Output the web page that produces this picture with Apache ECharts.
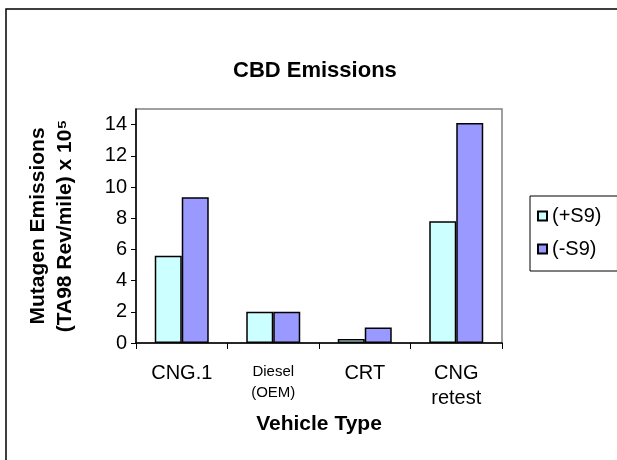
<!DOCTYPE html>
<html>
<head>
<meta charset="utf-8">
<script src="https://cdn.jsdelivr.net/npm/echarts@6/dist/echarts.min.js"></script>
<style>
  html, body { margin: 0; padding: 0; background: #fff; }
  #main { width: 617px; height: 460px; }
</style>
</head>
<body>
<div id="main"></div>
<script>
// data
const categories = ['CNG.1', 'Diesel\n(OEM)', 'CRT', 'CNG\nretest'];
const plusS9 = [5.6, 2.0, 0.25, 7.8];
const minusS9 = [9.35, 2.0, 1.0, 14.1];
const yTicks = [0, 2, 4, 6, 8, 10, 12, 14];
const seriesNames = ['(+S9)', '(-S9)'];

const font = 'Liberation Sans, Arial, sans-serif';

const myChart = echarts.init(document.getElementById('main'));

function catLabel(v) {
    // the Diesel label is printed smaller in the original
    const style = v.indexOf('Diesel') === 0 ? 's' : 'b';
    return v.split('\n').map(function (l) { return '{' + style + '|' + l + '}'; }).join('\n');
}

const option = {
    backgroundColor: '#fff',
    animation: false,
    title: {
        text: 'CBD Emissions',
        left: 228,
        top: 55,
        textStyle: { fontFamily: font, fontSize: 22, fontWeight: 'bold', color: '#000' }
    },
    legend: {
        orient: 'vertical',
        left: 530,
        top: 196,
        padding: [10, 16, 12, 7],
        itemGap: 13,
        itemWidth: 9,
        itemHeight: 9,
        itemTextGap: 7,
        icon: 'rect',
        borderColor: '#000',
        borderWidth: 1,
        data: seriesNames,
        textStyle: { fontFamily: font, fontSize: 20, color: '#000', lineHeight: 20 }
    },
    grid: {
        left: 136,
        right: 115,
        top: 109,
        bottom: 117,
        show: true,
        borderColor: '#808080',
        borderWidth: 1.5,
        backgroundColor: '#fff'
    },
    xAxis: {
        type: 'category',
        data: categories,
        name: 'Vehicle Type',
        nameLocation: 'middle',
        nameGap: 62,
        nameTextStyle: { fontFamily: font, fontSize: 21, fontWeight: 'bold', color: '#000' },
        axisLine: { lineStyle: { color: '#000', width: 1.5 } },
        axisTick: { show: true, length: 6, lineStyle: { color: '#000', width: 1 } },
        axisLabel: {
            margin: 18,
            interval: 0,
            color: '#000',
            formatter: catLabel,
            rich: {
                b: { fontFamily: font, fontSize: 20, lineHeight: 25, color: '#000' },
                s: { fontFamily: font, fontSize: 15, lineHeight: 21, color: '#000' }
            }
        }
    },
    yAxis: {
        type: 'value',
        min: 0,
        max: 15,
        interval: 1,
        name: 'Mutagen Emissions\n(TA98 Rev/mile) x 10\u2075',
        nameLocation: 'middle',
        nameRotate: 90,
        nameGap: 57,
        nameTextStyle: { fontFamily: font, fontSize: 21, fontWeight: 'bold', color: '#000', lineHeight: 27 },
        splitLine: { show: false },
        axisLine: { show: true, lineStyle: { color: '#000', width: 1.5 } },
        axisTick: { show: true, length: 5, customValues: yTicks, lineStyle: { color: '#000', width: 1 } },
        axisLabel: {
            margin: 9,
            customValues: yTicks,
            fontFamily: font,
            fontSize: 20,
            color: '#000'
        }
    },
    series: [
        {
            name: seriesNames[0],
            type: 'bar',
            data: plusS9,
            barGap: '0%',
            barCategoryGap: '41%',
            itemStyle: { color: '#CCFFFF', borderColor: '#000', borderWidth: 1.5 }
        },
        {
            name: seriesNames[1],
            type: 'bar',
            data: minusS9,
            itemStyle: { color: '#9999FF', borderColor: '#000', borderWidth: 1.5 }
        }
    ],
    graphic: [
        {
            type: 'rect',
            shape: { x: 6, y: 9, width: 700, height: 600 },
            style: { fill: 'none', stroke: '#000', lineWidth: 1.5 },
            silent: true
        }
    ]
};

myChart.setOption(option);
</script>
</body>
</html>
